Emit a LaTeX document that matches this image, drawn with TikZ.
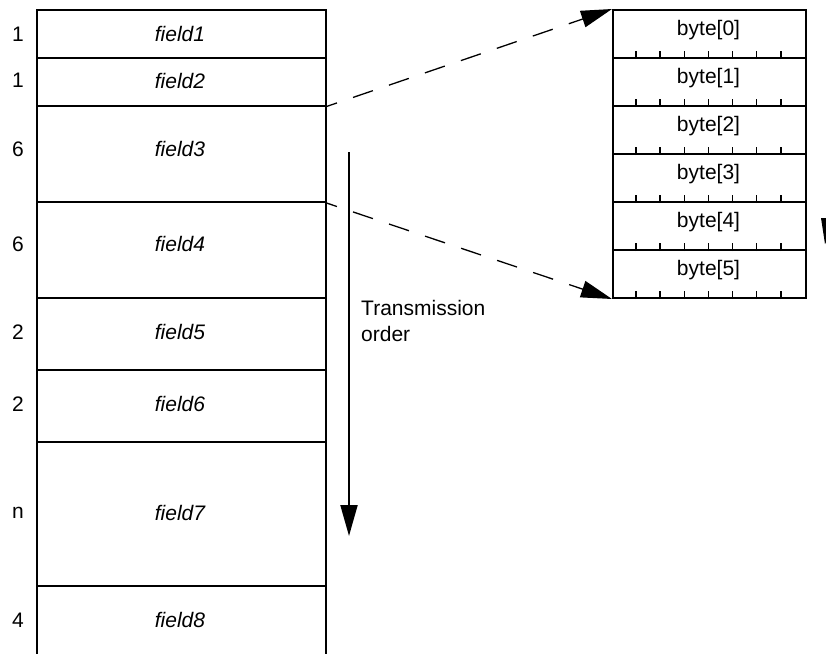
\documentclass[tikz,border=0pt]{standalone}
\usepackage{fontspec}
\setmainfont{Liberation Sans}
\usetikzlibrary{arrows.meta}
\begin{document}
\begin{tikzpicture}[x=1pt,y=-1pt,
  fieldcell/.style={draw, line width=2pt, anchor=north west, inner sep=0pt,
    minimum width=289pt, minimum height=#1},
  bytecell/.style={draw, line width=2pt, anchor=north west, inner sep=0pt,
    minimum width=193pt, minimum height=48pt},
  lbl/.style={inner sep=0pt, font=\fontsize{21}{26}\selectfont},
  fname/.style={inner sep=0pt, font=\fontsize{21}{26}\selectfont\itshape},
  bitmark/.style={line width=1.6pt},
  link/.style={line width=1.3pt, dash pattern=on 21pt off 17pt, dash phase=10pt,
    -{Triangle[length=31pt,width=17pt]}},
  flow/.style={line width=2pt, -{Triangle[length=31pt,width=17pt]}}]

% page area
\path[use as bounding box, fill=white] (0,0) rectangle (826,653);

% frame layout: rows of the record
\node[fieldcell=48pt]   (f1) at (35.5,9)     {};
\node[fieldcell=47.5pt] (f2) at (35.5,57)    {};
\node[fieldcell=96.5pt] (f3) at (35.5,104.5) {};
\node[fieldcell=96pt]   (f4) at (35.5,201)   {};
\node[fieldcell=72pt]   (f5) at (35.5,297)   {};
\node[fieldcell=72pt]   (f6) at (35.5,369)   {};
\node[fieldcell=144pt]  (f7) at (35.5,441)   {};
\node[fieldcell=80pt]   (f8) at (35.5,585)   {};

% field names and sizes
\foreach \i/\y/\n in {1/34/1, 2/80.5/1, 3/149/6, 4/244/6, 5/332/2, 6/404/2, 7/513/n, 8/620/4}{
  \node[fname] (name\i) at (180,\y) {field\i};
  \node[lbl]   (size\i) at (18,\y)  {\n};
}

% byte breakdown
\foreach \i in {0,...,5}{
  \node[bytecell] (b\i) at (612,9+48*\i) {};
  \node[lbl, anchor=base] (bl\i) at (708.5,35+48*\i) {byte[\i]};
  \foreach \k in {1,...,7}
    \draw[bitmark] (b\i.south west) ++(24.1*\k pt,0pt) -- ++(0pt,8pt);
}

% expansion of field3 into bytes
\draw[link] (f2.south east) -- (b0.north west);
\draw[link] (f3.south east) -- (b5.south west);

% transmission order
\coordinate (tstart) at (349,152);
\coordinate (tend)   at (349,536);
\draw[flow] (tstart) -- (tend);
\node[lbl, anchor=north west, align=left] (torder) at (361,300) {Transmission\\order};

% arrow tip at the right edge
\fill (821,218) -- (840,218) -- (825,244) -- cycle;
\end{tikzpicture}
\end{document}
